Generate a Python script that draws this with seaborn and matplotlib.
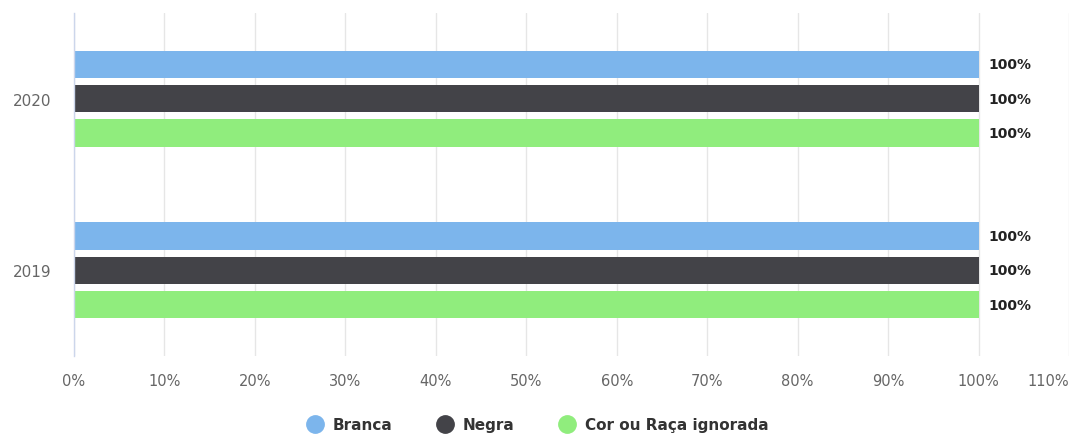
import matplotlib
matplotlib.use("Agg")
import matplotlib.pyplot as plt
from matplotlib.lines import Line2D
import seaborn as sns
import pandas as pd

years = ["2020", "2019"]
series = ["Branca", "Negra", "Cor ou Raça ignorada"]
branca = [100, 100]
negra = [100, 100]
ignorada = [100, 100]
colors = ["#7cb5ec", "#434348", "#90ed7d"]
x_ticks = [0, 10, 20, 30, 40, 50, 60, 70, 80, 90, 100, 110]

rows = []
for name, vals in zip(series, [branca, negra, ignorada]):
    for y, v in zip(years, vals):
        rows.append({"ano": y, "grupo": name, "valor": v})
df = pd.DataFrame(rows)

sns.set_style("white")
plt.rcParams["font.family"] = ["DejaVu Sans"]

fig = plt.figure(figsize=(10.74, 4.39), dpi=100)
ax = fig.add_axes([74 / 1074, 82 / 439, 995 / 1074, 343 / 439])

sns.barplot(data=df, y="ano", x="valor", hue="grupo", order=years,
            hue_order=series, palette=colors, orient="h", width=0.6,
            gap=0.2, dodge=True, saturation=1, legend=False, ax=ax,
            linewidth=0, errorbar=None)

ax.set_xlim(0, 110)
ax.set_ylim(1.5, -0.5)
ax.set_xticks(x_ticks)
ax.set_xticklabels([f"{t}%" for t in x_ticks], color="#666666", fontsize=10.5)
# keep the last tick label inside the figure
ax.get_xticklabels()[-1].set_horizontalalignment("right")
ax.get_xticklabels()[-1].set_x(110)
ax.set_xlabel("")
ax.set_ylabel("")
ax.tick_params(axis="x", length=0, pad=12)
ax.tick_params(axis="y", length=0, pad=16, labelsize=11, labelcolor="#666666")
ax.grid(axis="x", color="#e6e6e6", linewidth=1)
ax.set_axisbelow(True)
for side in ["top", "right", "bottom"]:
    ax.spines[side].set_visible(False)
ax.spines["left"].set_color("#ccd6eb")
ax.spines["left"].set_linewidth(1)

for container in ax.containers:
    ax.bar_label(container, labels=[f"{v:.0f}%" for v in container.datavalues],
                 padding=7, fontsize=10, fontweight="bold", color="#222222")

handles = [Line2D([0], [0], marker="o", linestyle="", markersize=12.5,
                  markerfacecolor=c, markeredgecolor=c) for c in colors]
fig.legend(handles, series, loc="center", bbox_to_anchor=(0.5, 13 / 439),
           ncol=3, frameon=False, handletextpad=0.6, columnspacing=2.8,
           handlelength=1.2, prop={"weight": "bold", "size": 11},
           labelcolor="#333333")

fig.savefig("out.png", dpi=100)
